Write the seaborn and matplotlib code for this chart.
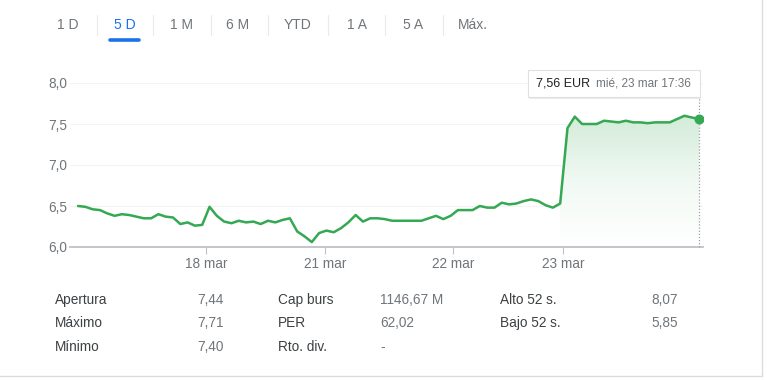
import numpy as np
import pandas as pd
import matplotlib
matplotlib.use("Agg")
import matplotlib.pyplot as plt
import seaborn as sns
from matplotlib.lines import Line2D
from matplotlib.patches import FancyBboxPatch, Polygon
from matplotlib.colors import LinearSegmentedColormap
from matplotlib.ticker import FuncFormatter

# datos (5 días)
precios = [6.50, 6.49, 6.46, 6.45, 6.41, 6.38, 6.40, 6.39, 6.37, 6.35,
           6.35, 6.40, 6.37, 6.36, 6.28, 6.30, 6.26, 6.27, 6.49, 6.38,
           6.31, 6.29, 6.32, 6.30, 6.31, 6.28, 6.32, 6.30, 6.33, 6.35,
           6.19, 6.13, 6.06, 6.17, 6.20, 6.18, 6.23, 6.30, 6.39, 6.31,
           6.35, 6.35, 6.34, 6.32, 6.32, 6.32, 6.32, 6.32, 6.35, 6.38,
           6.34, 6.38, 6.45, 6.45, 6.45, 6.50, 6.48, 6.48, 6.54, 6.52,
           6.53, 6.56, 6.58, 6.56, 6.51, 6.48, 6.53, 7.45, 7.59, 7.50,
           7.50, 7.50, 7.54, 7.53, 7.52, 7.54, 7.52, 7.52, 7.51, 7.52,
           7.52, 7.52, 7.56, 7.60, 7.58, 7.56]
dias = ["18 mar", "21 mar", "22 mar", "23 mar"]
pos_dias = [17.5, 33.8, 51.3, 66.4]
inicio_hoy = 66
y_ticks = [6.0, 6.5, 7.0, 7.5, 8.0]

pestanas = ["1 D", "5 D", "1 M", "6 M", "YTD", "1 A", "5 A", "Máx."]
pestana_activa = "5 D"

etiquetas = [["Apertura", "Máximo", "Mínimo"],
             ["Cap burs", "PER", "Rto. div."],
             ["Alto 52 s.", "Bajo 52 s."]]
valores = [["7,44", "7,71", "7,40"],
           ["1146,67 M", "62,02", "-"],
           ["8,07", "5,85"]]

tooltip_precio = "7,56 EUR"
tooltip_fecha = "mié, 23 mar 17:36"

df = pd.DataFrame({"i": np.arange(len(precios)), "precio": precios})

sns.set_style("white")
plt.rcParams["font.family"] = ["Liberation Sans", "DejaVu Sans"]

W, H = 767, 381
fig = plt.figure(figsize=(W / 100, H / 100), dpi=100)
fig.patch.set_facecolor("white")


def fx(px):
    return px / W


def fy(py):
    return 1 - py / H


ax = fig.add_axes([fx(70), fy(247), fx(703) - fx(70), fy(83) - fy(247)])

verde = "#34a853"
gris = "#70757a"

sns.lineplot(data=df, x="i", y="precio", color=verde, linewidth=1.8, ax=ax)

# relleno degradado bajo la sesión de hoy
xs = df["i"].values[inicio_hoy:]
ys = df["precio"].values[inicio_hoy:]
poly = np.column_stack([np.r_[xs, xs[-1], xs[0]], np.r_[ys, 6.0, 6.0]])
clip = Polygon(poly, closed=True, facecolor="none", edgecolor="none")
ax.add_patch(clip)
cmap = LinearSegmentedColormap.from_list("g", ["#ffffff", "#f1f9f3", "#d3ecd9"])
grad = np.linspace(0, 1, 256).reshape(-1, 1)
im = ax.imshow(grad, cmap=cmap, aspect="auto", origin="lower",
               extent=[xs[0], xs[-1], 6.0, max(ys)], zorder=1)
im.set_clip_path(clip)

ax.scatter([df["i"].iloc[-1]], [df["precio"].iloc[-1]], s=38, color=verde, zorder=5)
ax.vlines(df["i"].iloc[-1], 6.0, 7.83, colors="#9aa0a6", linestyles=(0, (1, 1.5)),
          linewidth=0.9, clip_on=False, zorder=4)

ax.set_xlim(-1.1, 85.55)
ax.set_ylim(6.0, 8.0)
ax.set_yticks(y_ticks)
ax.yaxis.set_major_formatter(FuncFormatter(lambda v, p: f"{v:.1f}".replace(".", ",")))
ax.set_xticks(pos_dias)
ax.set_xticklabels(dias)
ax.set_xlabel("")
ax.set_ylabel("")
for y in y_ticks[1:]:
    ax.axhline(y, color="#f3f3f3", linewidth=0.8, zorder=0)
for s in ["top", "right", "left"]:
    ax.spines[s].set_visible(False)
ax.spines["bottom"].set_color("#bdc1c6")
ax.spines["bottom"].set_linewidth(1.3)
ax.tick_params(axis="x", length=5, width=0.8, color="#bdc1c6", pad=2,
               labelsize=9.8, labelcolor=gris, bottom=True)
ax.tick_params(axis="y", length=0, pad=2, labelsize=9.8, labelcolor=gris)

# pestañas de periodo
xs_tab = [68, 125, 182, 238, 298, 357, 413, 473]
for nombre, x in zip(pestanas, xs_tab):
    color = "#1a73e8" if nombre == pestana_activa else gris
    fig.text(fx(x), fy(25), nombre, ha="center", va="center", fontsize=10, color=color)
for x in [97, 153, 211, 268, 328, 385, 443]:
    fig.add_artist(Line2D([fx(x), fx(x)], [fy(15), fy(35)], color="#e8eaed", linewidth=0.8))
fig.add_artist(Line2D([fx(110), fx(139)], [fy(39.5), fy(39.5)], color="#1a73e8",
                      linewidth=2.6, solid_capstyle="round"))

# tooltip
sombra = FancyBboxPatch((fx(529), fy(98.5)), fx(700) - fx(528), fy(70) - fy(97),
                        boxstyle="square,pad=0", transform=fig.transFigure,
                        facecolor="#000000", alpha=0.08, edgecolor="none")
caja = FancyBboxPatch((fx(528), fy(97)), fx(700) - fx(528), fy(70) - fy(97),
                      boxstyle="square,pad=0", transform=fig.transFigure,
                      facecolor="white", edgecolor="#e0e0e0", linewidth=0.8)
fig.add_artist(sombra)
fig.add_artist(caja)
fig.text(fx(536), fy(84), tooltip_precio, ha="left", va="center", fontsize=9, color="#202124")
fig.text(fx(596), fy(84), tooltip_fecha, ha="left", va="center", fontsize=8.5, color=gris)

# tabla inferior
filas_y = [300, 323, 347]
col_etq = [55, 278, 500]
col_val = [197, 380, 651]
for c in range(3):
    for r, (e, v) in enumerate(zip(etiquetas[c], valores[c])):
        fig.text(fx(col_etq[c]), fy(filas_y[r]), e, ha="left", va="center",
                 fontsize=9.8, color="#3c4043")
        fig.text(fx(col_val[c]), fy(filas_y[r]), v, ha="left", va="center",
                 fontsize=9.8, color=gris)

# borde de la tarjeta
fig.add_artist(Line2D([fx(762), fx(762)], [fy(0), fy(376)], color="#dadce0", linewidth=1))
fig.add_artist(Line2D([fx(0), fx(762)], [fy(376), fy(376)], color="#dadce0", linewidth=1))

fig.savefig("out.png", dpi=100, facecolor="white")
